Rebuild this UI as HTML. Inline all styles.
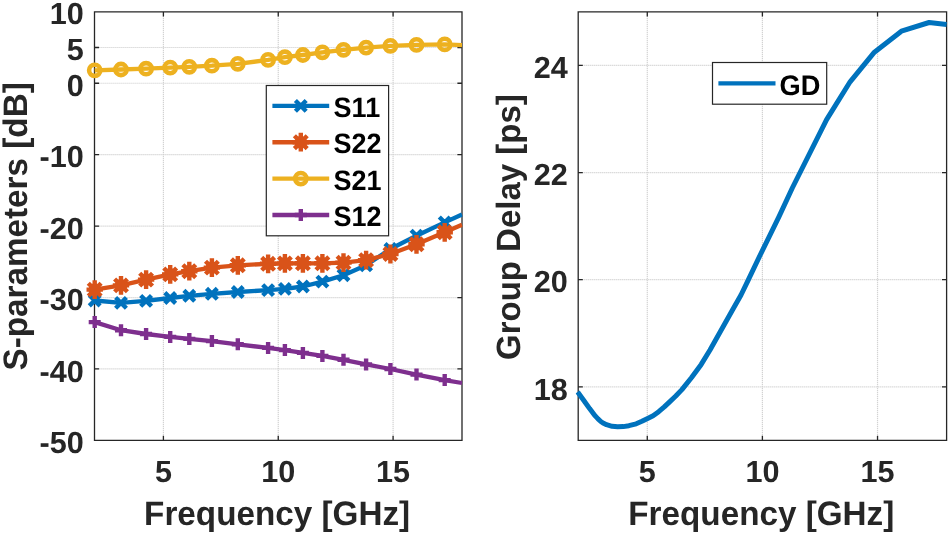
<!DOCTYPE html>
<html lang="en"><head><meta charset="utf-8"><title>S-parameters and Group Delay</title>
<style>
html,body{margin:0;padding:0;background:#fff;}
body{width:950px;height:534px;overflow:hidden;}
svg{display:block;will-change:transform;}
text{text-rendering:geometricPrecision;}
.g{stroke:#d2d2d2;stroke-width:1.2;stroke-dasharray:1.2 0.8;fill:none;}
</style></head><body>
<svg width="950" height="534" viewBox="0 0 950 534">
<rect width="950" height="534" fill="#fff"/>
<line x1="163.41" y1="11.8" x2="163.41" y2="440.4" class="g"/>
<line x1="278.25" y1="11.8" x2="278.25" y2="440.4" class="g"/>
<line x1="393.09" y1="11.8" x2="393.09" y2="440.4" class="g"/>
<line x1="94.5" y1="47.52" x2="462.0" y2="47.52" class="g"/>
<line x1="94.5" y1="83.23" x2="462.0" y2="83.23" class="g"/>
<line x1="94.5" y1="154.67" x2="462.0" y2="154.67" class="g"/>
<line x1="94.5" y1="226.10" x2="462.0" y2="226.10" class="g"/>
<line x1="94.5" y1="297.53" x2="462.0" y2="297.53" class="g"/>
<line x1="94.5" y1="368.97" x2="462.0" y2="368.97" class="g"/>
<path d="M94.5 11.8H462.0V440.4H94.5ZM163.41 440.4v-4.6M163.41 11.8v4.6M278.25 440.4v-4.6M278.25 11.8v4.6M393.09 440.4v-4.6M393.09 11.8v4.6M94.5 47.52h4.6M462.0 47.52h-4.6M94.5 83.23h4.6M462.0 83.23h-4.6M94.5 154.67h4.6M462.0 154.67h-4.6M94.5 226.10h4.6M462.0 226.10h-4.6M94.5 297.53h4.6M462.0 297.53h-4.6M94.5 368.97h4.6M462.0 368.97h-4.6" fill="none" stroke="#262626" stroke-width="1.3"/>
<clipPath id="c1"><rect x="85.5" y="11.8" width="377.1" height="428.59999999999997"/></clipPath>
<g clip-path="url(#c1)">
<polyline points="94.7,300.5 121.0,302.9 146.1,300.9 170.2,298.0 189.3,295.8 211.9,293.8 237.8,292.0 268.1,290.1 284.9,288.9 302.9,286.5 322.4,281.6 343.5,275.2 366.1,265.3 390.4,249.0 416.5,235.7 444.7,222.4 462.0,214.5" fill="none" stroke="#0072BD" stroke-width="4.3" stroke-linejoin="round"/>
<path d="M89.3 295.1L100.1 305.9M89.3 305.9L100.1 295.1M115.6 297.5L126.4 308.3M115.6 308.3L126.4 297.5M140.7 295.5L151.5 306.3M140.7 306.3L151.5 295.5M164.8 292.6L175.6 303.4M164.8 303.4L175.6 292.6M183.9 290.4L194.7 301.2M183.9 301.2L194.7 290.4M206.5 288.4L217.3 299.2M206.5 299.2L217.3 288.4M232.4 286.6L243.2 297.4M232.4 297.4L243.2 286.6M262.7 284.7L273.5 295.5M262.7 295.5L273.5 284.7M279.5 283.5L290.3 294.2M279.5 294.2L290.3 283.5M297.5 281.1L308.3 291.9M297.5 291.9L308.3 281.1M317.0 276.2L327.8 287.0M317.0 287.0L327.8 276.2M338.1 269.8L348.9 280.6M338.1 280.6L348.9 269.8M360.7 259.9L371.5 270.7M360.7 270.7L371.5 259.9M385.0 243.6L395.8 254.4M385.0 254.4L395.8 243.6M411.1 230.3L421.9 241.1M411.1 241.1L421.9 230.3M439.3 217.0L450.1 227.8M439.3 227.8L450.1 217.0" fill="none" stroke="#0072BD" stroke-width="4.4"/>
<polyline points="94.7,289.6 121.0,285.4 146.1,279.6 170.2,274.4 189.3,271.2 211.9,267.6 237.8,265.3 268.1,263.8 284.9,263.4 302.9,263.3 322.4,263.3 343.5,262.6 366.1,260.1 390.4,254.0 416.5,244.3 444.7,232.3 462.0,224.7" fill="none" stroke="#D95319" stroke-width="4.3" stroke-linejoin="round"/>
<circle cx="94.7" cy="289.6" r="6.3" fill="#D95319"/>
<circle cx="121.0" cy="285.4" r="6.3" fill="#D95319"/>
<circle cx="146.1" cy="279.6" r="6.3" fill="#D95319"/>
<circle cx="170.2" cy="274.4" r="6.3" fill="#D95319"/>
<circle cx="189.3" cy="271.2" r="6.3" fill="#D95319"/>
<circle cx="211.9" cy="267.6" r="6.3" fill="#D95319"/>
<circle cx="237.8" cy="265.3" r="6.3" fill="#D95319"/>
<circle cx="268.1" cy="263.8" r="6.3" fill="#D95319"/>
<circle cx="284.9" cy="263.4" r="6.3" fill="#D95319"/>
<circle cx="302.9" cy="263.3" r="6.3" fill="#D95319"/>
<circle cx="322.4" cy="263.3" r="6.3" fill="#D95319"/>
<circle cx="343.5" cy="262.6" r="6.3" fill="#D95319"/>
<circle cx="366.1" cy="260.1" r="6.3" fill="#D95319"/>
<circle cx="390.4" cy="254.0" r="6.3" fill="#D95319"/>
<circle cx="416.5" cy="244.3" r="6.3" fill="#D95319"/>
<circle cx="444.7" cy="232.3" r="6.3" fill="#D95319"/>
<path d="M86.5 289.6H102.9M94.7 280.2V299.0M88.3 283.2L101.1 296.0M88.3 296.0L101.1 283.2M112.8 285.4H129.2M121.0 276.0V294.8M114.6 279.0L127.4 291.8M114.6 291.8L127.4 279.0M137.9 279.6H154.3M146.1 270.2V289.0M139.7 273.2L152.5 286.0M139.7 286.0L152.5 273.2M162.0 274.4H178.4M170.2 265.0V283.8M163.8 268.0L176.6 280.8M163.8 280.8L176.6 268.0M181.1 271.2H197.5M189.3 261.8V280.6M182.9 264.8L195.7 277.6M182.9 277.6L195.7 264.8M203.7 267.6H220.1M211.9 258.2V277.0M205.5 261.2L218.3 274.0M205.5 274.0L218.3 261.2M229.6 265.3H246.0M237.8 255.9V274.7M231.4 258.9L244.2 271.7M231.4 271.7L244.2 258.9M259.9 263.8H276.3M268.1 254.4V273.2M261.7 257.4L274.5 270.2M261.7 270.2L274.5 257.4M276.7 263.4H293.1M284.9 254.0V272.8M278.5 257.0L291.3 269.8M278.5 269.8L291.3 257.0M294.7 263.3H311.1M302.9 253.9V272.7M296.5 256.9L309.3 269.7M296.5 269.7L309.3 256.9M314.2 263.3H330.6M322.4 253.9V272.7M316.0 256.9L328.8 269.7M316.0 269.7L328.8 256.9M335.3 262.6H351.7M343.5 253.2V272.0M337.1 256.2L349.9 269.0M337.1 269.0L349.9 256.2M357.9 260.1H374.3M366.1 250.7V269.5M359.7 253.7L372.5 266.5M359.7 266.5L372.5 253.7M382.2 254.0H398.6M390.4 244.6V263.4M384.0 247.6L396.8 260.4M384.0 260.4L396.8 247.6M408.3 244.3H424.7M416.5 234.9V253.7M410.1 237.9L422.9 250.7M410.1 250.7L422.9 237.9M436.5 232.3H452.9M444.7 222.9V241.7M438.3 225.9L451.1 238.7M438.3 238.7L451.1 225.9" fill="none" stroke="#D95319" stroke-width="4.4"/>
<polyline points="94.7,70.3 121.0,69.5 146.1,68.7 170.2,67.6 189.3,66.8 211.9,65.7 237.8,63.8 268.1,59.9 284.9,57.2 302.9,55.0 322.4,52.3 343.5,49.8 366.1,47.6 390.4,45.8 416.5,44.9 444.7,44.4 462.0,45.2" fill="none" stroke="#EDB120" stroke-width="4.3" stroke-linejoin="round"/>
<circle cx="94.7" cy="70.3" r="5.6" fill="none" stroke="#EDB120" stroke-width="4.6"/>
<circle cx="121.0" cy="69.5" r="5.6" fill="none" stroke="#EDB120" stroke-width="4.6"/>
<circle cx="146.1" cy="68.7" r="5.6" fill="none" stroke="#EDB120" stroke-width="4.6"/>
<circle cx="170.2" cy="67.6" r="5.6" fill="none" stroke="#EDB120" stroke-width="4.6"/>
<circle cx="189.3" cy="66.8" r="5.6" fill="none" stroke="#EDB120" stroke-width="4.6"/>
<circle cx="211.9" cy="65.7" r="5.6" fill="none" stroke="#EDB120" stroke-width="4.6"/>
<circle cx="237.8" cy="63.8" r="5.6" fill="none" stroke="#EDB120" stroke-width="4.6"/>
<circle cx="268.1" cy="59.9" r="5.6" fill="none" stroke="#EDB120" stroke-width="4.6"/>
<circle cx="284.9" cy="57.2" r="5.6" fill="none" stroke="#EDB120" stroke-width="4.6"/>
<circle cx="302.9" cy="55.0" r="5.6" fill="none" stroke="#EDB120" stroke-width="4.6"/>
<circle cx="322.4" cy="52.3" r="5.6" fill="none" stroke="#EDB120" stroke-width="4.6"/>
<circle cx="343.5" cy="49.8" r="5.6" fill="none" stroke="#EDB120" stroke-width="4.6"/>
<circle cx="366.1" cy="47.6" r="5.6" fill="none" stroke="#EDB120" stroke-width="4.6"/>
<circle cx="390.4" cy="45.8" r="5.6" fill="none" stroke="#EDB120" stroke-width="4.6"/>
<circle cx="416.5" cy="44.9" r="5.6" fill="none" stroke="#EDB120" stroke-width="4.6"/>
<circle cx="444.7" cy="44.4" r="5.6" fill="none" stroke="#EDB120" stroke-width="4.6"/>
<polyline points="94.7,322.1 121.0,330.2 146.1,334.0 170.2,336.9 189.3,338.9 211.9,341.1 237.8,344.3 268.1,347.9 284.9,350.1 302.9,352.9 322.4,355.9 343.5,359.8 366.1,364.4 390.4,369.0 416.5,374.6 444.7,380.1 462.0,383.0" fill="none" stroke="#7E2F8E" stroke-width="4.3" stroke-linejoin="round"/>
<path d="M88.7 322.1H100.7M94.7 316.1V328.1M115.0 330.2H127.0M121.0 324.2V336.2M140.1 334.0H152.1M146.1 328.0V340.0M164.2 336.9H176.2M170.2 330.9V342.9M183.3 338.9H195.3M189.3 332.9V344.9M205.9 341.1H217.9M211.9 335.1V347.1M231.8 344.3H243.8M237.8 338.3V350.3M262.1 347.9H274.1M268.1 341.9V353.9M278.9 350.1H290.9M284.9 344.1V356.1M296.9 352.9H308.9M302.9 346.9V358.9M316.4 355.9H328.4M322.4 349.9V361.9M337.5 359.8H349.5M343.5 353.8V365.8M360.1 364.4H372.1M366.1 358.4V370.4M384.4 369.0H396.4M390.4 363.0V375.0M410.5 374.6H422.5M416.5 368.6V380.6M438.7 380.1H450.7M444.7 374.1V386.1" fill="none" stroke="#7E2F8E" stroke-width="4.4"/>
</g>
<g font-family='"Liberation Sans", Arial, Helvetica, sans-serif' font-weight="bold" fill="#262626">
<g font-size="30.6">
<text x="83.8" y="23.8" text-anchor="end">10</text>
<text x="83.8" y="60.2" text-anchor="end">5</text>
<text x="83.8" y="95.9" text-anchor="end">0</text>
<text x="83.8" y="167.4" text-anchor="end">-10</text>
<text x="83.8" y="238.8" text-anchor="end">-20</text>
<text x="83.8" y="310.2" text-anchor="end">-30</text>
<text x="83.8" y="381.7" text-anchor="end">-40</text>
<text x="83.8" y="453.1" text-anchor="end">-50</text>
<text x="163.4" y="481.9" text-anchor="middle">5</text>
<text x="647.3" y="481.9" text-anchor="middle">5</text>
<text x="278.2" y="481.9" text-anchor="middle">10</text>
<text x="762.4" y="481.9" text-anchor="middle">10</text>
<text x="393.1" y="481.9" text-anchor="middle">15</text>
<text x="877.5" y="481.9" text-anchor="middle">15</text>
<text x="567.8" y="78.1" text-anchor="end">24</text>
<text x="567.8" y="185.2" text-anchor="end">22</text>
<text x="567.8" y="292.4" text-anchor="end">20</text>
<text x="567.8" y="399.5" text-anchor="end">18</text>
</g>
<g font-size="33.25" text-anchor="middle">
<text transform="translate(277.1 525.2) scale(1 1.02)">Frequency [GHz]</text>
<text transform="translate(761.3 525.2) scale(1 1.02)">Frequency [GHz]</text>
<text transform="translate(27.3 226.4) rotate(-90) scale(1 1.02)">S-parameters [dB]</text>
<text font-size="33" transform="translate(520.0 227.1) rotate(-90) scale(1 1.02)">Group Delay [ps]</text>
</g></g>
<line x1="647.28" y1="11.8" x2="647.28" y2="440.4" class="g"/>
<line x1="762.40" y1="11.8" x2="762.40" y2="440.4" class="g"/>
<line x1="877.53" y1="11.8" x2="877.53" y2="440.4" class="g"/>
<line x1="578.2" y1="65.38" x2="946.6" y2="65.38" class="g"/>
<line x1="578.2" y1="172.53" x2="946.6" y2="172.53" class="g"/>
<line x1="578.2" y1="279.68" x2="946.6" y2="279.68" class="g"/>
<line x1="578.2" y1="386.82" x2="946.6" y2="386.82" class="g"/>
<path d="M578.2 11.8H946.6V440.4H578.2ZM647.28 440.4v-4.6M647.28 11.8v4.6M762.40 440.4v-4.6M762.40 11.8v4.6M877.53 440.4v-4.6M877.53 11.8v4.6M578.2 65.38h4.6M946.6 65.38h-4.6M578.2 172.53h4.6M946.6 172.53h-4.6M578.2 279.68h4.6M946.6 279.68h-4.6M578.2 386.82h4.6M946.6 386.82h-4.6" fill="none" stroke="#262626" stroke-width="1.3"/>
<clipPath id="c2"><rect x="575.7" y="11.8" width="371.4" height="428.59999999999997"/></clipPath>
<g clip-path="url(#c2)">
<polyline points="577.5,391.9 578.4,393.1 584.0,400.7 589.6,408.6 595.2,415.9 598.0,418.9 600.8,421.5 603.6,423.3 606.5,424.7 612.1,426.3 617.7,426.8 623.3,426.6 628.9,425.7 636.2,423.8 641.9,421.3 647.1,418.8 653.1,415.8 658.7,411.7 664.3,406.9 669.9,401.6 675.8,396.0 681.9,389.6 691.6,377.5 701.2,364.4 710.0,350.0 732.2,310.6 741.0,295.0 748.2,280.1 760.2,255.0 779.0,216.6 792.3,188.0 826.6,119.6 850.1,81.8 874.4,52.2 901.4,31.2 929.1,22.5 946.6,24.5" fill="none" stroke="#0072BD" stroke-width="5.0" stroke-linejoin="round"/>
</g>
<rect x="266.3" y="85.5" width="122.3" height="150.3" fill="#fff" stroke="#262626" stroke-width="1.2"/>
<line x1="272.4" y1="105.9" x2="329.2" y2="105.9" stroke="#0072BD" stroke-width="4.4"/>
<path d="M295.4 100.5L306.2 111.3M295.4 111.3L306.2 100.5" fill="none" stroke="#0072BD" stroke-width="4.4"/>
<text transform="translate(333.6 117.1) scale(1 1.04)" font-family='"Liberation Sans", Arial, Helvetica, sans-serif' font-weight="bold" font-size="27" fill="#000">S11</text>
<line x1="272.4" y1="142.2" x2="329.2" y2="142.2" stroke="#D95319" stroke-width="4.4"/>
<circle cx="300.8" cy="142.2" r="6.3" fill="#D95319"/>
<path d="M292.6 142.2H309.0M300.8 132.8V151.6M294.4 135.8L307.2 148.6M294.4 148.6L307.2 135.8" fill="none" stroke="#D95319" stroke-width="4.4"/>
<text transform="translate(333.6 153.4) scale(1 1.04)" font-family='"Liberation Sans", Arial, Helvetica, sans-serif' font-weight="bold" font-size="27" fill="#000">S22</text>
<line x1="272.4" y1="178.6" x2="329.2" y2="178.6" stroke="#EDB120" stroke-width="4.4"/>
<circle cx="300.8" cy="178.6" r="5.6" fill="none" stroke="#EDB120" stroke-width="4.6"/>
<text transform="translate(333.6 189.8) scale(1 1.04)" font-family='"Liberation Sans", Arial, Helvetica, sans-serif' font-weight="bold" font-size="27" fill="#000">S21</text>
<line x1="272.4" y1="215.0" x2="329.2" y2="215.0" stroke="#7E2F8E" stroke-width="4.4"/>
<path d="M294.8 215.0H306.8M300.8 209.0V221.0" fill="none" stroke="#7E2F8E" stroke-width="4.4"/>
<text transform="translate(333.6 226.2) scale(1 1.04)" font-family='"Liberation Sans", Arial, Helvetica, sans-serif' font-weight="bold" font-size="27" fill="#000">S12</text>
<rect x="712.5" y="62.5" width="114.2" height="41.7" fill="#fff" stroke="#262626" stroke-width="1.2"/>
<line x1="718.4" y1="83.4" x2="775.5" y2="83.4" stroke="#0072BD" stroke-width="4.4"/>
<text transform="translate(779.6 94.6) scale(1 1.04)" font-family='"Liberation Sans", Arial, Helvetica, sans-serif' font-weight="bold" font-size="27.2" fill="#000">GD</text>
</svg>
</body></html>
